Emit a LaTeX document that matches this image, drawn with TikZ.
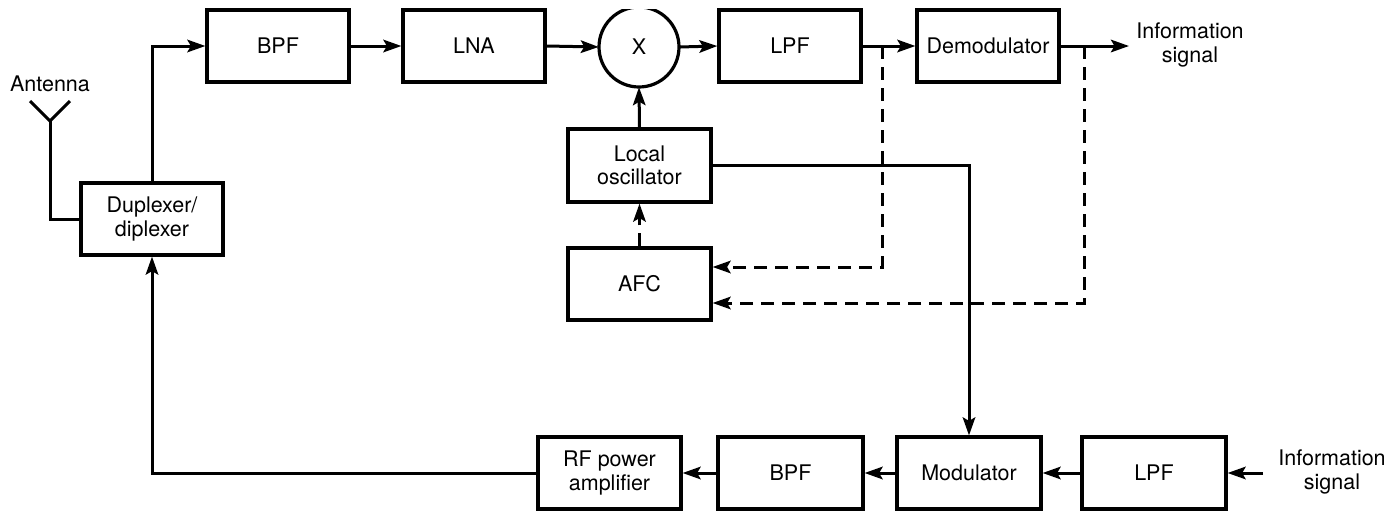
\documentclass[tikz,border=0pt]{standalone}
\usepackage{fontspec}
\setmainfont{TeX Gyre Heros}
\usetikzlibrary{arrows.meta,calc}
\begin{document}
\begin{tikzpicture}[x=1pt,y=-1pt,
  font=\fontsize{21.5}{23.5}\selectfont,
  blk/.style={draw,line width=3.2pt,minimum width=142pt,minimum height=72pt,align=center,inner sep=0pt},
  tip/.style={-{Stealth[length=18pt,width=12.5pt,inset=3.5pt]}},
  conn/.style={line width=3pt,tip},
  wire/.style={line width=3pt},
  dashline/.style={line width=3pt,dash pattern=on 13pt off 8pt},
  lbl/.style={align=center,inner sep=0pt}]
\useasboundingbox (0,0) rectangle (1393,512);
% top chain
\node[blk] (bpf1) at (278,46) {BPF};
\node[blk] (lna) at (474,46) {LNA};
\node[circle,minimum size=80pt,inner sep=0pt] (mix) at (639,47) {X};
\begin{scope}
\clip (0,9) rectangle (1393,512);
\draw[line width=3.2pt] (mix) circle[radius=40pt];
\end{scope}
\node[blk] (lpf1) at (790,46) {LPF};
\node[blk] (dem) at (988,46) {Demodulator};
\node[lbl] (infoout) at (1190,45) {Information\\signal};
\coordinate (outend) at (1129,46);
% duplexer and antenna
\node[blk] (dup) at (152,219) {Duplexer/\\diplexer};
\coordinate (anttop) at (50,121);
\coordinate (armL) at (30,101);
\coordinate (armR) at (70,101);
\node[lbl] (antlbl) at (50,84) {Antenna};
% LO and AFC
\node[blk,minimum width=143pt,minimum height=73pt] (lo) at (639.5,165.5) {Local\\oscillator};
\node[blk,minimum width=143pt] (afc) at (639.5,284) {AFC};
% bottom chain
\node[blk,minimum width=143pt] (rf) at (609.5,473) {RF power\\amplifier};
\node[blk,minimum width=145pt] (bpf2) at (790.5,473) {BPF};
\node[blk,minimum width=144pt] (mod) at (969,473) {Modulator};
\node[blk,minimum width=144pt] (lpf2) at (1154,473) {LPF};
\node[lbl] (infoin) at (1332,472) {Information\\signal};
\coordinate (inend) at (1263,473);
% branch points
\coordinate (br1) at (882,46);
\coordinate (br2) at (1084,46);
% connectors
\draw[wire] (armL) -- (anttop) -- (armR);
\draw[wire] (anttop) |- (dup.west);
\draw[conn] (dup.north) |- (bpf1.west);
\draw[conn] (bpf1) -- (lna);
\draw[conn] (lna.east) -- (mix.west);
\draw[conn] (mix.east) -- (lpf1.west);
\draw[conn] (lpf1) -- (dem);
\draw[conn] (dem.east) -- (outend);
\draw[conn] (lo.north) -- (mix.south);
\draw[dashline,tip] (afc.north) -- (lo.south);
\draw[dashline,tip] (br1) |- ([yshift=17pt]afc.east);
\draw[dashline,tip] (br2) |- ([yshift=-19pt]afc.east);
\draw[conn] (lo.east) -| (mod.north);
\draw[conn] (inend) -- (lpf2.east);
\draw[conn] (lpf2) -- (mod);
\draw[conn] (mod) -- (bpf2);
\draw[conn] (bpf2) -- (rf);
\draw[conn] (rf.west) -| (dup.south);
\end{tikzpicture}
\end{document}
